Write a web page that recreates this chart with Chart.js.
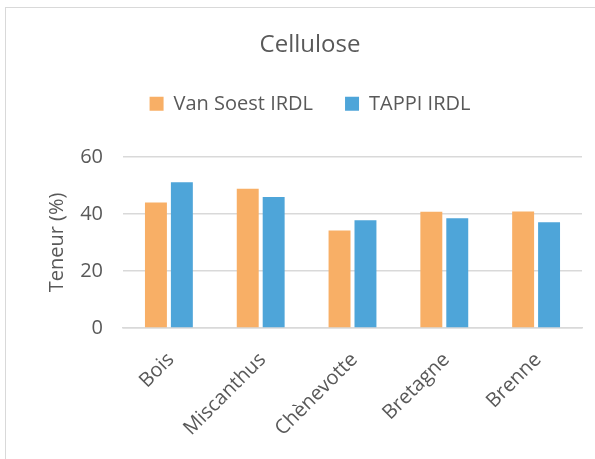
<!DOCTYPE html>
<html>
<head>
<meta charset="utf-8">
<script src="https://cdn.jsdelivr.net/npm/chart.js@4"></script>
<style>
  html, body { margin: 0; padding: 0; background: #fff; }
  #wrap { position: relative; width: 595px; height: 459px; overflow: hidden; }
  #frame { position: absolute; left: 5px; top: 7px; width: 620px; height: 480px; border: 1.5px solid #D9D9D9; box-sizing: border-box; }
  canvas { position: absolute; left: 0; top: 0; }
</style>
</head>
<body>
<div id="wrap">
  <div id="frame"></div>
  <canvas id="c" width="595" height="459"></canvas>
</div>
<script>
const chartTitle = "Cellulose";
const categories = ["Bois", "Miscanthus", "Chènevotte", "Bretagne", "Brenne"];
const seriesNames = ["Van Soest IRDL", "TAPPI IRDL"];
const vanSoest = [44.0, 48.8, 34.2, 40.7, 40.8];
const tappi = [51.1, 45.9, 37.8, 38.5, 37.1];
const yTicks = [0, 20, 40, 60];
const yTitle = "Teneur (%)";

const txt = "#595959";
const font = "'Open Sans', 'Noto Sans', sans-serif";

const legendSpacing = {
  id: 'legendSpacing',
  beforeInit(chart) {
    const origFit = chart.legend.fit;
    chart.legend.fit = function () {
      origFit.bind(chart.legend)();
      this.height += 33;
    };
  }
};

new Chart(document.getElementById('c'), {
  type: 'bar',
  data: {
    labels: categories,
    datasets: [
      { label: seriesNames[0], data: vanSoest, backgroundColor: "#F8AF66", categoryPercentage: 0.565, barPercentage: 0.846 },
      { label: seriesNames[1], data: tappi, backgroundColor: "#4EA5D9", categoryPercentage: 0.565, barPercentage: 0.846 }
    ]
  },
  options: {
    responsive: false,
    animation: false,
    devicePixelRatio: 1,
    layout: { padding: { top: 0, left: 38, right: 13, bottom: 0 } },
    plugins: {
      title: {
        display: true, text: chartTitle, color: txt,
        font: { family: font, size: 24, weight: 'normal' },
        padding: { top: 31, bottom: 2 }
      },
      legend: {
        display: true,
        labels: {
          color: txt, font: { family: font, size: 20 },
          boxWidth: 14, boxHeight: 14, padding: 32
        }
      },
      tooltip: { enabled: false }
    },
    scales: {
      x: {
        grid: { display: false, drawTicks: false },
        border: { display: true, color: "#D9D9D9", width: 1.5 },
        ticks: {
          color: txt, font: { family: font, size: 20 },
          minRotation: 45, maxRotation: 45, padding: 20, labelOffset: 2
        },
        afterFit(scale) { scale.height = 131; }
      },
      y: {
        min: 0, max: 60,
        afterBuildTicks(scale) { scale.ticks = yTicks.map(v => ({ value: v })); },
        grid: { color: "#D9D9D9", lineWidth: 1.5, drawTicks: false },
        border: { display: false },
        ticks: { color: txt, font: { family: font, size: 20 }, padding: 20 },
        title: {
          display: true, text: yTitle, color: txt,
          font: { family: font, size: 20 }, padding: { top: 7, bottom: 0 }
        },
        afterFit(scale) { scale.width = 85; }
      }
    }
  },
  plugins: [legendSpacing]
});
</script>
</body>
</html>
